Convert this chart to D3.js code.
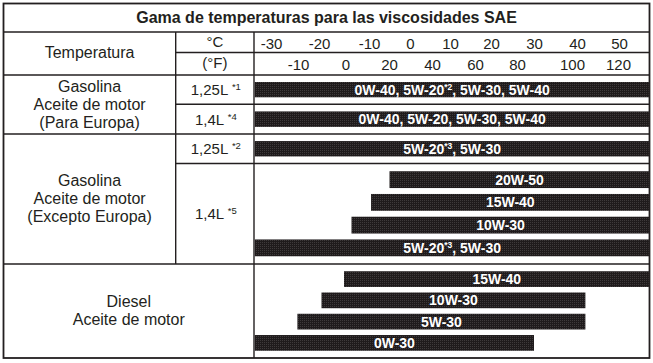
<!DOCTYPE html>
<html>
<head>
<meta charset="utf-8">
<script src="https://cdn.jsdelivr.net/npm/d3@7"></script>
<style>
    body { margin: 0; background: #fff; }
    svg text { font-family: "Liberation Sans", Arial, Helvetica, sans-serif; fill: #231f20; }
</style>
</head>
<body>
<svg id="chart" width="653" height="363"></svg>
<script>
// values
var title = "Gama de temperaturas para las viscosidades SAE"
var headerLabel = "Temperatura"
var unitLabels = ["°C", "(°F)"]
var celsiusTicks = [-30, -20, -10, 0, 10, 20, 30, 40, 50]
var fahrenheitTicks = [-10, 0, 20, 40, 60, 80, 100, 120]

var groupLabels = [
    ["Gasolina", "Aceite de motor", "(Para Europa)"],
    ["Gasolina", "Aceite de motor", "(Excepto Europa)"],
    ["Diesel", "Aceite de motor"]
]
// {..} = superscript
var engineLabels = ["1,25L {*1}", "1,4L {*4}", "1,25L {*2}", "1,4L {*5}"]

var gradeLabels = [
    "0W-40, 5W-20{*2}, 5W-30, 5W-40",
    "0W-40, 5W-20, 5W-30, 5W-40",
    "5W-20{*3}, 5W-30",
    "20W-50", "15W-40", "10W-30", "5W-20{*3}, 5W-30",
    "15W-40", "10W-30", "5W-30", "0W-30"
]
var gradeRow = [0, 1, 2, 3, 3, 3, 3, 4, 4, 4, 4]
// °C limits, null = open ended
var gradeFrom = [null, null, null, -5, -9.5, -13.5, null, -15, -19.5, -24.5, null]
var gradeTo = [null, null, null, null, null, null, null, null, 42, 42, 30]

// table layout
var L = 3.5, R = 649.5, T = 3.5, B = 358
var col1 = 175.7, col2 = 254
var titleBottom = 32, unitSplit = 52.5, headBottom = 75
var rowEdges = [75, 104.3, 134, 163.5, 264, 358]
var groupRows = [[0, 1], [2, 3], [4, 4]]
var ink = "#231f20"

var svg = d3.select("#chart")

// stippled print black for the bars
var pat = svg.append("defs").append("pattern")
    .attr("id", "dots").attr("patternUnits", "userSpaceOnUse")
    .attr("width", 2).attr("height", 2)
pat.append("rect").attr("width", 2).attr("height", 2).attr("fill", "#1f1b1c")
pat.append("rect").attr("width", 1).attr("height", 1).attr("fill", "#3e3a3b")

var xC = d3.scaleLinear().domain(celsiusTicks)
    .range([271, 319, 369, 410, 450, 491, 534, 577, 619])
var xF = d3.scaleLinear().domain(fahrenheitTicks)
    .range([298, 345.3, 389, 432, 475, 517, 572, 618])

var rich = (sel, str, supSize, lift) => {
    str.split(/(\{[^}]*\})/).filter(s => s.length).forEach((part, i, arr) => {
        var sup = part[0] == "{"
        var prevSup = i > 0 && arr[i - 1][0] == "{"
        var ts = sel.append("tspan").text(sup ? part.slice(1, -1) : part)
        if (sup) ts.attr("font-size", supSize).attr("dy", -lift)
        else if (prevSup) ts.attr("dy", lift)
    })
}

// bars
var bars = svg.append("g")
d3.range(rowEdges.length - 1).forEach(r => {
    var idx = gradeRow.map((g, i) => g == r ? i : -1).filter(i => i >= 0)
    var y = d3.scaleBand().domain(idx)
        .range([rowEdges[r], rowEdges[r + 1]])
        .paddingInner(0.26).paddingOuter(0.34)
    var x0 = i => gradeFrom[i] == null ? col2 + 0.8 : xC(gradeFrom[i])
    var x1 = i => gradeTo[i] == null ? R : xC(gradeTo[i])

    var g = bars.selectAll(".bar_" + r).data(idx).enter()
        .append("g").attr("class", "bar_" + r)
    g.append("rect")
        .attr("x", x0).attr("y", i => y(i))
        .attr("width", i => x1(i) - x0(i))
        .attr("height", y.bandwidth())
        .attr("fill", "url(#dots)")
    g.append("text")
        .attr("x", i => (x0(i) + x1(i)) / 2)
        .attr("y", i => y(i) + y.bandwidth() / 2 + 5)
        .attr("text-anchor", "middle")
        .attr("font-size", 14).attr("font-weight", "bold")
        .style("fill", "#fff")
        .each(function (i) { rich(d3.select(this), gradeLabels[i], 8.5, 5) })
})

// grid lines
var grid = svg.append("g").attr("stroke", ink).attr("stroke-width", 1.4)
var hline = (y, x0, x1) => grid.append("line").attr("x1", x0).attr("x2", x1).attr("y1", y).attr("y2", y)
var vline = (x, y0, y1) => grid.append("line").attr("x1", x).attr("x2", x).attr("y1", y0).attr("y2", y1)
hline(titleBottom, L, R)
hline(unitSplit, col1, R)
hline(headBottom, L, R)
hline(rowEdges[1], col1, R)
hline(rowEdges[2], L, R)
hline(rowEdges[3], col1, R)
hline(rowEdges[4], L, R)
vline(col1, titleBottom, rowEdges[4])
vline(col2, titleBottom, B)
svg.append("rect").attr("x", L).attr("y", T)
    .attr("width", R - L).attr("height", B - T)
    .attr("fill", "none").attr("stroke", ink).attr("stroke-width", 1.8)

// header
svg.append("text").attr("x", (L + R) / 2).attr("y", 22.5)
    .attr("text-anchor", "middle").attr("font-size", 16).attr("font-weight", "bold")
    .text(title)
svg.append("text").attr("x", (L + col1) / 2).attr("y", 57.5)
    .attr("text-anchor", "middle").attr("font-size", 16)
    .text(headerLabel)
svg.selectAll(".unit").data(unitLabels).enter().append("text")
    .attr("class", "unit")
    .attr("x", (col1 + col2) / 2)
    .attr("y", (d, i) => i == 0 ? 47 : 68)
    .attr("text-anchor", "middle").attr("font-size", 15)
    .text(d => d)

var axisC = svg.append("g").attr("transform", "translate(0,49)")
    .call(d3.axisTop(xC).tickValues(celsiusTicks).tickSize(0).tickPadding(0).tickFormat(d3.format("d")))
var axisF = svg.append("g").attr("transform", "translate(0,69.5)")
    .call(d3.axisTop(xF).tickValues(fahrenheitTicks).tickSize(0).tickPadding(0).tickFormat(d3.format("d")))
;[axisC, axisF].forEach(a => {
    a.select(".domain").remove()
    a.attr("font-family", null).attr("font-size", 15)
    a.selectAll("text").attr("dy", null).attr("fill", null).text(function () { return this.textContent.replace("−", "-") })
})

// group labels, left column
svg.selectAll(".group").data(groupLabels).enter().append("text")
    .attr("class", "group")
    .attr("text-anchor", "middle").attr("font-size", 16)
    .each(function (lines, gi) {
        var r = groupRows[gi]
        var cx = gi == 2 ? (L + col2) / 2 : (L + col1) / 2
        var cy = (rowEdges[r[0]] + rowEdges[r[1] + 1]) / 2
        d3.select(this).selectAll("tspan").data(lines).enter().append("tspan")
            .attr("x", cx)
            .attr("y", (d, k) => cy + (k - (lines.length - 1) / 2) * 18 + 5)
            .text(d => d)
    })

// engine labels, second column
svg.selectAll(".engine").data(engineLabels).enter().append("text")
    .attr("class", "engine")
    .attr("x", (col1 + col2) / 2 + 1)
    .attr("y", (d, r) => (rowEdges[r] + rowEdges[r + 1]) / 2 + 5.5)
    .attr("text-anchor", "middle").attr("font-size", 15)
    .each(function (d) { rich(d3.select(this), d, 9.5, 5) })
</script>
</body>
</html>
